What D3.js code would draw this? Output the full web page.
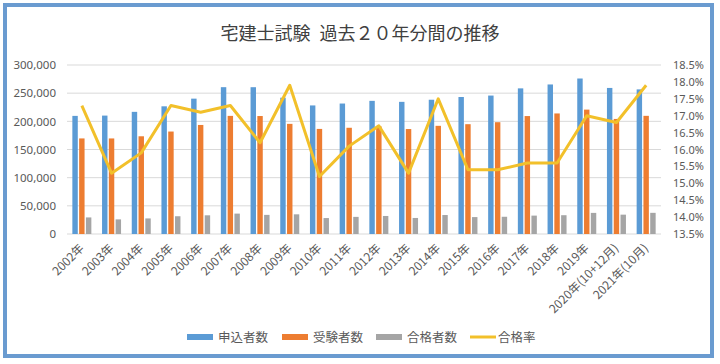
<!DOCTYPE html>
<html>
<head>
<meta charset="utf-8">
<script src="https://cdn.jsdelivr.net/npm/d3@7"></script>
<style>
  body { margin: 0; background: #fff; }
  svg { display: block; font-family: 'Noto Sans CJK JP', 'Noto Sans', sans-serif; }
</style>
</head>
<body>
<div class="chart"></div>
<script>
const width = 720;
const height = 364;

const years = [
    '2002年', '2003年', '2004年', '2005年', '2006年', '2007年', '2008年',
    '2009年', '2010年', '2011年', '2012年', '2013年', '2014年', '2015年',
    '2016年', '2017年', '2018年', '2019年', '2020年(10+12月)', '2021年(10月)',
];
const applicants = [
    209672, 210182, 216830, 226665, 240278, 260633, 260591, 241944, 228214,
    231596, 236350, 234586, 238343, 243199, 245742, 258511, 265444, 276019,
    259284, 256704,
];
const examinees = [
    169657, 169625, 173457, 181880, 193573, 209684, 209415, 195515, 186542,
    188572, 191169, 186304, 192029, 194926, 198463, 209354, 213993, 220797,
    204250, 209749,
];
const passers = [
    29423, 25942, 27639, 31520, 33191, 36203, 33946, 34918, 28311, 30391,
    32000, 28470, 33670, 30028, 30589, 32644, 33360, 37481, 34338, 37579,
];
const passRate = [
    0.173, 0.153, 0.159, 0.173, 0.171, 0.173, 0.162, 0.179, 0.152, 0.161,
    0.167, 0.153, 0.175, 0.154, 0.154, 0.156, 0.156, 0.170, 0.168, 0.179,
];
const barSeries = ['申込者数', '受験者数', '合格者数'];
const lineSeries = '合格率';
const leftTicks = [0, 50000, 100000, 150000, 200000, 250000, 300000];
const rightTicks = [0.135, 0.14, 0.145, 0.15, 0.155, 0.16, 0.165, 0.17, 0.175, 0.18, 0.185];

const barColors = ['#5b9bd5', '#ed7d31', '#a5a5a5'];
const lineColor = '#f2c02a';
const textColor = '#595959';

const svg = d3
    .select('.chart')
    .append('svg')
    .attr('width', width)
    .attr('height', height);

// outer frame
svg.append('rect')
    .attr('x', 5)
    .attr('y', 5)
    .attr('width', 707)
    .attr('height', 351)
    .attr('fill', '#fff')
    .attr('stroke', '#6a9bd0')
    .attr('stroke-width', 4);

svg.append('text')
    .attr('x', 360)
    .attr('y', 40)
    .attr('text-anchor', 'middle')
    .attr('font-size', '18px')
    .attr('fill', '#404040')
    .text('宅建士試験\u2002過去２０年分間の推移');

const x = d3.scaleBand().domain(years).range([67, 661]);
const xInner = d3
    .scaleBand()
    .domain(barSeries)
    .range([-9.5, 9.5])
    .paddingInner(0.2);
const yLeft = d3.scaleLinear().domain([0, 300000]).range([234, 65]);
const yRight = d3.scaleLinear().domain([0.135, 0.185]).range([234, 65]);

// gridlines
svg.append('g')
    .selectAll('line')
    .data(leftTicks)
    .enter()
    .append('line')
    .attr('x1', 67)
    .attr('x2', 661)
    .attr('y1', (d) => yLeft(d))
    .attr('y2', (d) => yLeft(d))
    .attr('stroke', '#d9d9d9')
    .attr('stroke-width', 1);

const leftAxis = svg
    .append('g')
    .attr('transform', 'translate(62,0)')
    .call(d3.axisLeft(yLeft).tickValues(leftTicks).tickSize(0).tickPadding(6).tickFormat(d3.format(',')));
leftAxis.select('.domain').remove();
leftAxis.selectAll('text').attr('fill', textColor).attr('font-size', '11.5px').attr('font-family', 'Noto Sans, sans-serif');

const rightAxis = svg
    .append('g')
    .attr('transform', 'translate(667,0)')
    .call(d3.axisRight(yRight).tickValues(rightTicks).tickSize(0).tickPadding(6).tickFormat(d3.format('.1%')));
rightAxis.select('.domain').remove();
rightAxis.selectAll('text').attr('fill', textColor).attr('font-size', '11px').attr('font-family', 'Noto Sans, sans-serif');

// bars
const barData = years.map((year, i) => ({
    year,
    values: [applicants[i], examinees[i], passers[i]],
}));

const group = svg
    .append('g')
    .selectAll('g')
    .data(barData)
    .enter()
    .append('g')
    .attr('transform', (d) => `translate(${x(d.year) + x.bandwidth() / 2},0)`);

group.selectAll('rect')
    .data((d) => d.values.map((v, j) => ({ key: barSeries[j], value: v, j })))
    .enter()
    .append('rect')
    .attr('x', (d) => xInner(d.key))
    .attr('width', xInner.bandwidth())
    .attr('y', (d) => yLeft(d.value))
    .attr('height', (d) => yLeft(0) - yLeft(d.value))
    .attr('fill', (d) => barColors[d.j]);

// pass-rate line
const line = d3
    .line()
    .x((d, i) => x(years[i]) + x.bandwidth() / 2)
    .y((d) => yRight(d));

svg.append('path')
    .datum(passRate)
    .attr('d', line)
    .attr('fill', 'none')
    .attr('stroke', lineColor)
    .attr('stroke-width', 3)
    .attr('stroke-linejoin', 'round');

// x labels
svg.append('g')
    .selectAll('text')
    .data(years)
    .enter()
    .append('text')
    .attr('transform', (d) => `translate(${x(d) + x.bandwidth() / 2 + 3},249) rotate(-45)`)
    .attr('text-anchor', 'end')
    .attr('font-size', '12px')
    .attr('fill', textColor)
    .text((d) => d);

// legend
const legend = svg.append('g').attr('transform', 'translate(187,337)');
const legendItems = barSeries.concat([lineSeries]);
const legendX = [0, 95, 189, 283];

legendItems.forEach((name, i) => {
    const g = legend.append('g').attr('transform', `translate(${legendX[i]},0)`);
    if (i < 3) {
        g.append('rect')
            .attr('x', 0)
            .attr('y', -3)
            .attr('width', 26)
            .attr('height', 6)
            .attr('fill', barColors[i]);
    } else {
        g.append('line')
            .attr('x1', 0)
            .attr('x2', 26)
            .attr('y1', 0)
            .attr('y2', 0)
            .attr('stroke', lineColor)
            .attr('stroke-width', 3);
    }
    g.append('text')
        .attr('x', i < 3 ? 31 : 28)
        .attr('y', 4.5)
        .attr('font-size', '12.5px')
        .attr('fill', textColor)
        .text(name);
});
</script>
</body>
</html>
